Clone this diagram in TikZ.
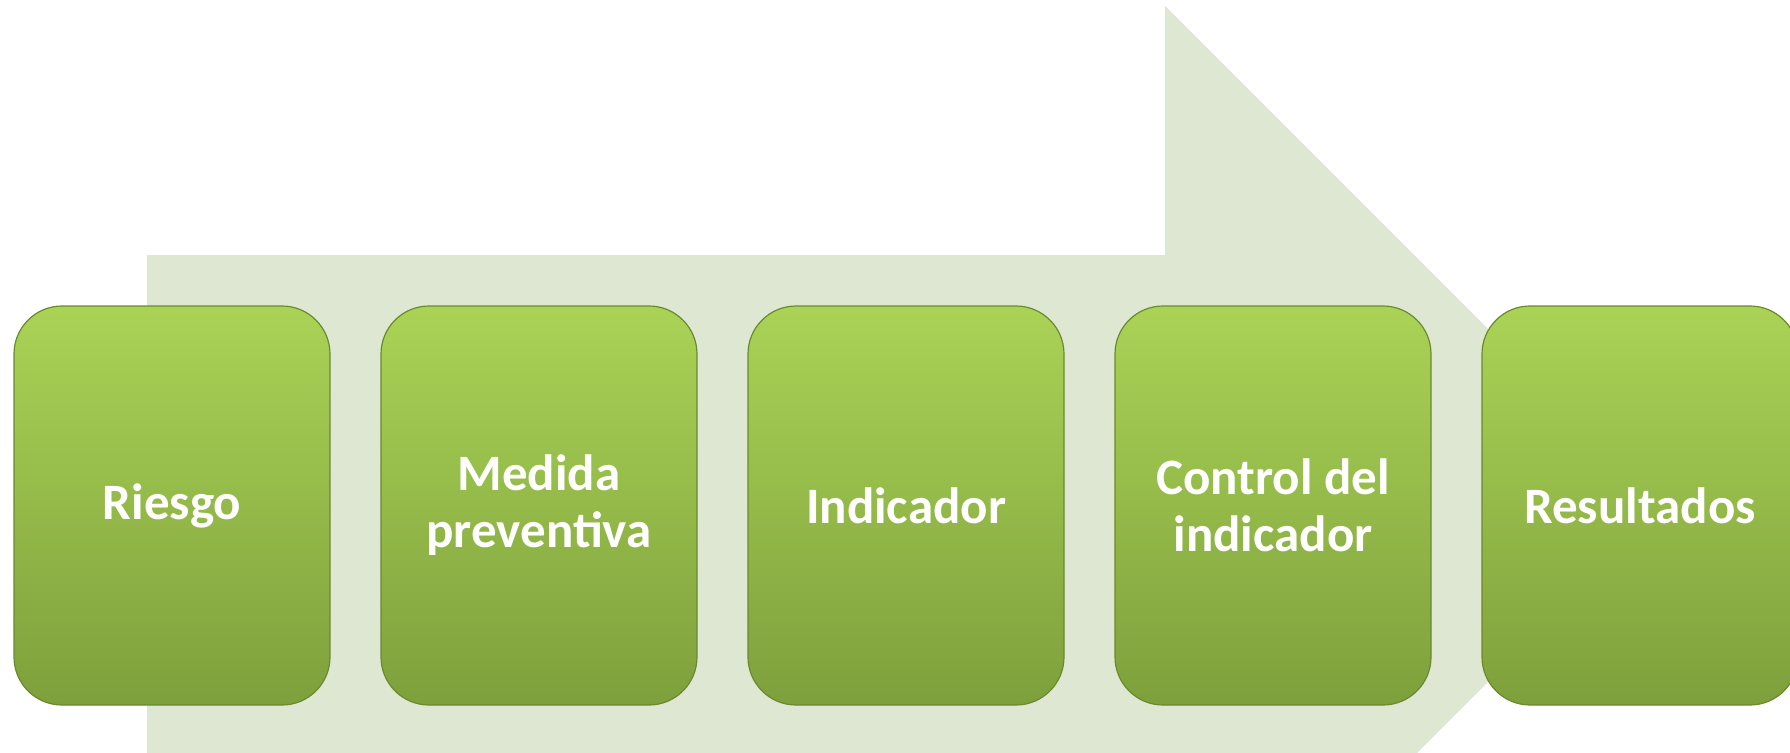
\documentclass[tikz,border=0pt]{standalone}
\usepackage{fontspec}
\setmainfont{Carlito}
\newfontfamily\boxfont{Carlito}
\definecolor{bgarrow}{HTML}{DEE7D2}
\definecolor{boxtop}{HTML}{AAD356}
\definecolor{boxbot}{HTML}{7EA03C}
\definecolor{boxline}{HTML}{6A8A2E}
\begin{document}
\begin{tikzpicture}[x=0.3pt,y=-0.3pt,
  stepbox/.style={rectangle, rounded corners=14.4pt, minimum width=94.8pt, minimum height=119.7pt,
    inner sep=0pt, top color=boxtop, bottom color=boxbot, draw=boxline, line width=0.36pt,
    text=white, align=center, font=\boxfont\fontsize{15.3}{17.1}\selectfont\bfseries}]
\useasboundingbox (0,0) rectangle (1790,752);
\clip (0,0) rectangle (1790,752);
% background arrow
\fill[bgarrow] (147,255) -- (1165,255) -- (1165,6) -- (1664.5,505.5) -- (1165,1005) -- (1165,756) -- (147,756) -- cycle;
% boxes
\node[stepbox] (b1) at (172,505.5) {Riesgo};
\node[stepbox] (b2) at (539,505.5) {Medida\\preventiva};
\node[stepbox] (b3) at (906,505.5) {Indicador};
\node[stepbox] (b4) at (1273,505.5) {Control del\\indicador};
\node[stepbox] (b5) at (1640,505.5) {Resultados};
\end{tikzpicture}
\end{document}
